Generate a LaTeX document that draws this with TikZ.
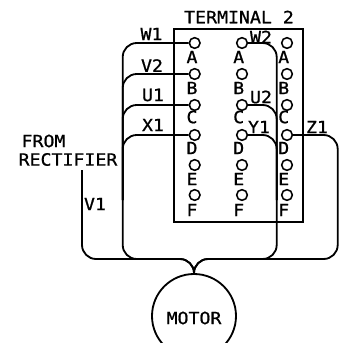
\documentclass[tikz,border=0pt]{standalone}
\usepackage{fontspec}
\setmainfont[FakeStretch=1.08,FakeBold=0.9]{DejaVu Sans Mono}
\usetikzlibrary{calc}

\tikzset{
  term/.style={draw, circle, line width=1.1pt, minimum size=7.6pt, inner sep=0pt},
  letter/.style={inner sep=0pt, font=\fontsize{12}{13}\selectfont},
  wire/.style={-, line width=1.3pt, rounded corners=10pt}
}

\begin{document}
\begin{tikzpicture}[x=0.025cm, y=-0.025cm]

\clip (0, 0) rectangle (343, 343);

\node[draw, line width=1.3pt, inner sep=0pt, minimum width=129*0.025cm, minimum height=193*0.025cm] (box) at (238.5, 125.5) {};

\node[term] (a1) at (194.7, 43) {};
\node[term] (b1) at (194.7, 74) {};
\node[term] (c1) at (194.7, 105) {};
\node[term] (d1) at (194.7, 135) {};
\node[term] (e1) at (194.7, 165) {};
\node[term] (f1) at (194.7, 195) {};

\node[term] (a2) at (242, 43) {};
\node[term] (b2) at (242, 74) {};
\node[term] (c2) at (242, 105) {};
\node[term] (d2) at (242, 135) {};
\node[term] (e2) at (242, 165) {};
\node[term] (f2) at (242, 195) {};

\node[term] (a3) at (287, 43) {};
\node[term] (b3) at (287, 74) {};
\node[term] (c3) at (287, 105) {};
\node[term] (d3) at (287, 135) {};
\node[term] (e3) at (287, 165) {};
\node[term] (f3) at (287, 195) {};

\node[letter] (la1) at (192, 57) {A};
\node[letter] (lb1) at (192, 88) {B};
\node[letter] (lc1) at (192, 117) {C};
\node[letter] (ld1) at (192, 148) {D};
\node[letter] (le1) at (192, 179) {E};
\node[letter] (lf1) at (192, 210) {F};

\node[letter] (la2) at (238.7, 57) {A};
\node[letter] (lb2) at (238.7, 88) {B};
\node[letter] (lc2) at (238.7, 117) {C};
\node[letter] (ld2) at (238.7, 148) {D};
\node[letter] (le2) at (238.7, 179) {E};
\node[letter] (lf2) at (238.7, 210) {F};

\node[letter] (la3) at (283.7, 57) {A};
\node[letter] (lb3) at (283.7, 88) {B};
\node[letter] (lc3) at (283.7, 117) {C};
\node[letter] (ld3) at (283.7, 148) {D};
\node[letter] (le3) at (283.7, 179) {E};
\node[letter] (lf3) at (283.7, 210) {F};

\node[draw, circle, line width=1.3pt, minimum size=84*0.025cm, inner sep=0pt] (motor) at (194, 316) {};
\node[letter] (motortext) at (194, 318) {MOTOR};

\node[letter] (terminaltext) at (239, 17) {TERMINAL 2};
\node[letter] (fromtext) at (43.5, 141) {FROM};
\node[letter] (rectifiertext) at (68, 159.5) {RECTIFIER};

\node[letter] (w1text) at (151.5, 34) {W1};
\node[letter] (v2text) at (152, 65.5) {V2};
\node[letter] (u1text) at (153, 95) {U1};
\node[letter] (x1text) at (153, 125) {X1};
\node[letter] (v1text) at (95, 204) {V1};
\node[letter] (w2text) at (261, 37) {W2};
\node[letter] (u2text) at (261, 97) {U2};
\node[letter] (y1text) at (259, 127) {Y1};
\node[letter] (z1text) at (317, 127) {Z1};

\coordinate (v1start) at (82, 170);
\coordinate (busfar) at (82, 259);
\coordinate (busleft) at (122.7, 259);
\coordinate (busleftup) at (122.7, 200);
\coordinate (busright) at (276.7, 259);
\coordinate (busrightup) at (276.7, 200);
\coordinate (busouter) at (337.7, 259);

\draw[wire] (a1.west) -| (busleft) -| (motor.north);
\draw[wire] (b1.west) -| (busleftup);
\draw[wire] (c1.west) -| (busleftup);
\draw[wire] (d1.west) -| (busleftup);

\draw[wire] (v1start) -- (busfar) -| (motor.north);

\draw[wire] (a2.east) -| (busright) -| (motor.north);
\draw[wire] (c2.east) -| (busrightup);
\draw[wire] (d2.east) -| (busrightup);

\draw[wire] (d3.east) -| (busouter) -| (motor.north);

\end{tikzpicture}
\end{document}
